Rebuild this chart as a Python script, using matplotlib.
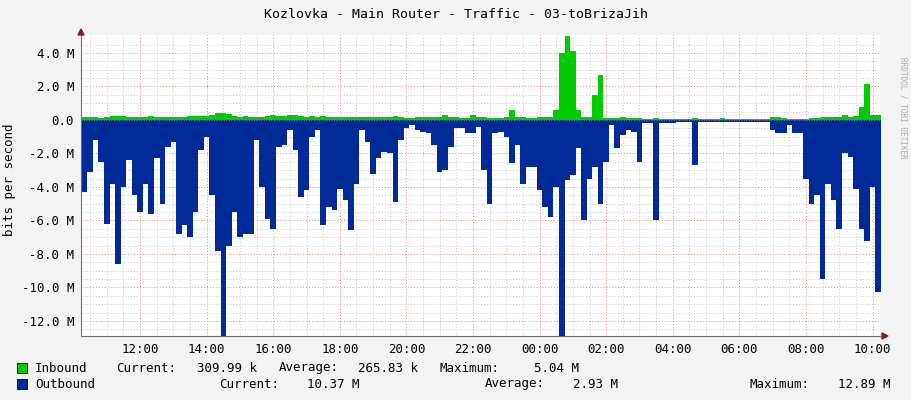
import matplotlib
matplotlib.use("Agg")
import matplotlib.pyplot as plt
import numpy as np
from matplotlib.patches import Rectangle

# 10-minute bins starting 10:15, values in M bits/s
start_hour = 10.25
outbound = [
 -4.3,-3.1,-1.2,-2.5,-6.2,-3.8,-8.6,-4.0,-2.4,-4.5,-5.5,-3.8,-5.6,-2.3,-5.0,-1.6,-1.3,-6.8,-6.3,-7.0,
 -5.5,-1.8,-1.0,-4.5,-7.8,-12.9,-7.5,-5.5,-7.0,-6.8,-6.8,-1.2,-4.0,-5.9,-6.5,-1.6,-1.5,
 -0.6,-1.8,-4.6,-4.2,-1.0,-0.6,-6.3,-5.2,-5.4,-4.1,-4.8,-6.6,-3.8,-0.6,-1.3,-3.2,-2.3,-1.9,-2.0,
 -4.9,-1.2,-0.5,-0.3,-0.6,-0.7,-0.8,-1.5,-3.1,-3.0,-1.6,-0.5,-0.5,-0.8,-0.8,-0.4,-3.0,
 -5.0,-0.8,-0.7,-1.0,-2.6,-1.5,-3.8,-2.8,-2.8,-4.2,-5.2,-5.8,-4.0,-12.9,-3.6,-3.3,-1.7,-6.0,
 -3.5,-2.8,-5.0,-2.5,-0.3,-1.7,-0.9,-0.6,-0.7,-2.5,-0.2,-0.2,-6.0,-0.2,-0.2,-0.2,-0.1,-0.1,
 -0.1,-2.7,-0.1,-0.1,-0.1,-0.1,-0.15,-0.1,-0.1,-0.1,-0.1,-0.1,-0.1,-0.1,-0.1,-0.6,-0.8,-0.8,
 -0.3,-0.8,-0.8,-3.5,-5.0,-4.5,-9.5,-3.8,-4.8,-6.5,-2.0,-2.2,-4.1,-6.5,-7.2,-4.0,-10.3,
]
inbound = [
 0.15,0.15,0.15,0.12,0.2,0.25,0.25,0.25,0.2,0.2,0.2,0.2,0.22,0.2,0.2,0.15,0.18,0.2,0.2,0.25,
 0.22,0.25,0.25,0.3,0.4,0.4,0.35,0.25,0.2,0.22,0.2,0.15,0.2,0.25,0.3,0.25,0.25,
 0.3,0.3,0.25,0.2,0.25,0.2,0.25,0.2,0.2,0.2,0.2,0.2,0.2,0.15,0.15,0.15,0.15,0.2,0.2,0.25,
 0.15,0.1,0.1,0.15,0.15,0.15,0.15,0.2,0.3,0.2,0.15,0.1,0.1,0.3,0.15,0.15,
 0.1,0.1,0.12,0.15,0.6,0.15,0.15,0.12,0.12,0.15,0.15,0.2,0.6,4.0,5.0,4.1,0.6,0.15,0.15,1.5,
 2.7,0.1,0.1,0.1,0.15,0.1,0.1,0.1,0.05,0.05,0.1,0.05,0.05,0.05,0.05,0.05,
 0.05,0.1,0.05,0.05,0.05,0.05,0.1,0.05,0.05,0.05,0.05,0.05,0.05,0.05,0.05,0.15,0.15,0.1,
 0.05,0.05,0.05,0.05,0.1,0.12,0.15,0.2,0.2,0.2,0.3,0.2,0.25,0.8,2.15,0.3,0.3,
]
tick_hours = [12, 14, 16, 18, 20, 22, 24, 26, 28, 30, 32, 34]
tick_labels = ["12:00","14:00","16:00","18:00","20:00","22:00","00:00","02:00","04:00","06:00","08:00","10:00"]
y_ticks = [4, 2, 0, -2, -4, -6, -8, -10, -12]
y_labels = ["4.0 M","2.0 M","0.0","-2.0 M","-4.0 M","-6.0 M","-8.0 M","-10.0 M","-12.0 M"]

title = "Kozlovka - Main Router - Traffic - 03-toBrizaJih"
legend_rows = [
    ("#00CC00", "Inbound",
     [(116, "Current:"), (197, "309.99 k"), (279, "Average:"), (358, "265.83 k"),
      (440, "Maximum:"), (534, "5.04 M")]),
    ("#002A97", "Outbound",
     [(219, "Current:"), (307, "10.37 M"), (485, "Average:"), (573, "2.93 M"),
      (750, "Maximum:"), (838, "12.89 M")]),
]

mono = "DejaVu Sans Mono"
fs = 9.0
fig = plt.figure(figsize=(9.11, 4.0), dpi=100, facecolor="#F3F3F3")
ax = fig.add_axes([81/911, 64/400, 799/911, 301/400])
ax.set_facecolor("white")

n = len(outbound)
x = start_hour + np.arange(n + 1) / 6.0
o = np.append(outbound, outbound[-1])
i_ = np.append(inbound, inbound[-1])
ax.fill_between(x, 0, o, step="post", color="#002A97", linewidth=0, zorder=3)
ax.fill_between(x, 0, i_, step="post", color="#00CC00", linewidth=0, zorder=3)

x0 = 10.225
ax.set_xlim(x0, x0 + 24)
ax.set_ylim(-12.9, 5.07)

for h in np.arange(10.5, 34.5, 0.5):
    major = abs(h / 2 - round(h / 2)) < 1e-6
    ax.axvline(h, color="#FF8080" if major else "#C8C8C8", lw=0.7,
               ls=(0, (1, 2)), zorder=1)
for v in np.arange(-12.5, 5.0, 0.5):
    major = abs(v / 2 - round(v / 2)) < 1e-6
    ax.axhline(v, color="#FF8080" if major else "#C8C8C8", lw=0.7,
               ls=(0, (1, 2)), zorder=1)
ax.axhline(0, color="#999999", lw=0.6, zorder=4, ls=(0, (1, 2)))

for s in ["top", "right"]:
    ax.spines[s].set_visible(False)
for s in ["left", "bottom"]:
    ax.spines[s].set_color("#707070")
ax.set_xticks(tick_hours)
ax.set_xticklabels(tick_labels, fontfamily=mono, fontsize=fs)
ax.set_yticks(y_ticks)
ax.set_yticklabels(y_labels, fontfamily=mono, fontsize=fs)
ax.tick_params(length=0, pad=5)
fig.text(10/911, 0.55, "bits per second", rotation=90, ha="center", va="center",
         fontfamily=mono, fontsize=fs)

fig.patches.append(matplotlib.patches.Polygon(
    [(882/911, 64/400 + 3/400), (882/911, 64/400 - 3/400), (888/911, 64/400)],
    closed=True, transform=fig.transFigure, color="#8B1A1A"))
fig.patches.append(matplotlib.patches.Polygon(
    [(78/911, 365/400), (84/911, 365/400), (81/911, 371/400)],
    closed=True, transform=fig.transFigure, color="#8B1A1A"))

fig.text(0.5, 1 - 15/400, title, ha="center", va="center", fontfamily=mono, fontsize=9.5)
fig.text(903/911, 0.73, "RRDTOOL / TOBI OETIKER", rotation=270, ha="center", va="center",
         fontfamily=mono, fontsize=5.5, color="#AAAAAA")

rows_y = [368, 384]
for (col, name, parts), yy in zip(legend_rows, rows_y):
    fig.patches.append(Rectangle((17/911, 1 - (yy + 5)/400), 10/911, 10/400,
                                 transform=fig.transFigure, facecolor=col,
                                 edgecolor="black", lw=0.6))
    fy = 1 - yy / 400
    fig.text(35/911, fy, name, va="center", fontfamily=mono, fontsize=fs)
    for p, t in parts:
        fig.text(p/911, fy, t, va="center", fontfamily=mono, fontsize=fs)

fig.savefig("out.png", dpi=100, facecolor=fig.get_facecolor())
